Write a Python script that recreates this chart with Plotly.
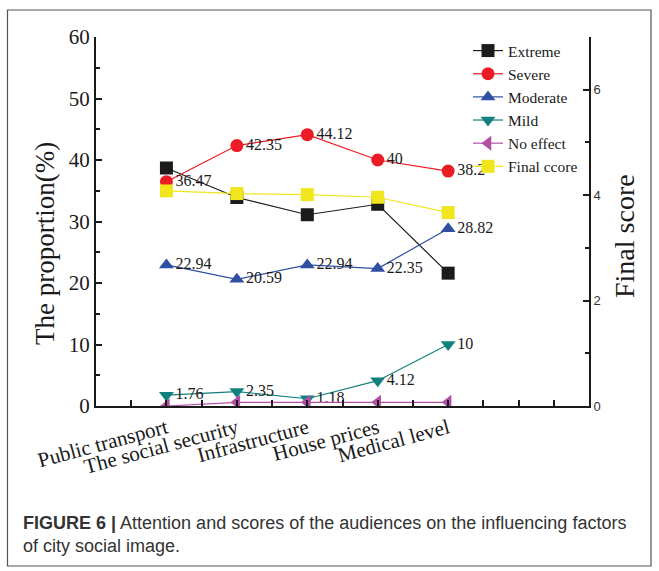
import plotly.graph_objects as go

# Influencing factors of the city's social image
categories = ["Public transport", "The social security", "Infrastructure",
              "House prices", "Medical level"]

# Share of respondents per attention level (%)
extreme = [38.7, 33.9, 31.1, 32.8, 21.6]
severe = [36.47, 42.35, 44.12, 40, 38.2]
moderate = [22.94, 20.59, 22.94, 22.35, 28.82]
mild = [1.76, 2.35, 1.18, 4.12, 10]
no_effect = [0, 0.59, 0.59, 0.59, 0.59]

# Final score per factor (right axis)
final_score = [4.08, 4.03, 4.01, 3.96, 3.67]

severe_labels = ["36.47", "42.35", "44.12", "40", "38.2"]
moderate_labels = ["22.94", "20.59", "22.94", "22.35", "28.82"]
mild_labels = ["1.76", "2.35", "1.18", "4.12", "10"]

W, H = 659, 571
L, R, T, B = 96, 589, 37, 406  # plot-area edges in pixels
PW, PH = R - L, B - T


def px_x(p):
    return (p - L) / PW


def px_y(p):
    return (B - p) / PH


SERIF = "Liberation Serif"
xs = list(range(len(categories)))

fig = go.Figure()


def add_series(name, ys, color, symbol, size, labels=None, yaxis="y"):
    fig.add_trace(go.Scatter(
        x=xs, y=ys, name=name, yaxis=yaxis,
        mode="lines+markers+text" if labels else "lines+markers",
        text=labels, textposition="middle right",
        textfont=dict(family=SERIF, size=16, color="#1a1a1a"),
        line=dict(color=color, width=1.2),
        marker=dict(color=color, symbol=symbol, size=size, line=dict(width=0)),
    ))


add_series("Extreme", extreme, "#1c1a1a", "square", 13)
add_series("Severe", severe, "#ec1c24", "circle", 13, severe_labels)
add_series("Moderate", moderate, "#2f4fa2", "triangle-up", 13, moderate_labels)
add_series("Mild", mild, "#12807e", "triangle-down", 13, mild_labels)
add_series("No effect", no_effect, "#b24fa6", "triangle-left", 13)
add_series("Final ccore", final_score, "#f1e61c", "square", 13, yaxis="y2")

# Bottom axis: ticks every half category, labels only on categories
tick_vals = [v / 2 for v in range(-1, 12)]
tick_text = [categories[int(v)] if v == int(v) and 0 <= v <= 4 else "" for v in tick_vals]

fig.update_layout(
    width=W, height=H,
    margin=dict(l=L, r=W - R, t=T, b=H - B),
    paper_bgcolor="white", plot_bgcolor="white",
    showlegend=True,
    legend=dict(
        x=px_x(468), y=px_y(34), xanchor="left", yanchor="top",
        bgcolor="rgba(0,0,0,0)",
        font=dict(family=SERIF, size=15.5, color="#1a1a1a"),
        tracegroupgap=0, itemwidth=30,
    ),
    xaxis=dict(
        range=[-1, 6], tickmode="array", tickvals=tick_vals, ticktext=tick_text,
        tickangle=-15, ticks="inside", ticklen=6, tickwidth=1.5, tickcolor="#1a1a1a",
        showline=True, linecolor="#1a1a1a", linewidth=2, showgrid=False, zeroline=False,
        tickfont=dict(family=SERIF, size=21, color="#1a1a1a"),
    ),
    xaxis2=dict(
        range=[0, 10], overlaying="x", side="top", dtick=1, ticks="inside",
        ticklen=3, tickwidth=1, tickcolor="#bbbbbb", showticklabels=False,
        showline=True, linecolor="#1a1a1a", linewidth=2, showgrid=False, zeroline=False,
    ),
    yaxis=dict(
        range=[0, 60], dtick=10, ticks="inside", ticklen=6, tickwidth=1.5,
        tickcolor="#1a1a1a",
        minor=dict(dtick=5, ticks="inside", ticklen=4, tickwidth=1.5, tickcolor="#1a1a1a"),
        showline=True, linecolor="#1a1a1a", linewidth=2, showgrid=False, zeroline=False,
        tickfont=dict(family=SERIF, size=21, color="#1a1a1a"),
    ),
    yaxis2=dict(
        range=[0, 7], dtick=2, overlaying="y", side="right", ticks="inside",
        ticklen=6, tickwidth=1.5, tickcolor="#1a1a1a",
        minor=dict(dtick=1, ticks="inside", ticklen=4, tickwidth=1.5, tickcolor="#1a1a1a"),
        showline=True, linecolor="#1a1a1a", linewidth=2, showgrid=False, zeroline=False,
        tickfont=dict(family="Liberation Sans", size=13, color="#333333"),
    ),
)

# Axis titles
fig.add_annotation(
    text="The proportion(%)", xref="paper", yref="paper",
    x=px_x(45), y=px_y(244), xanchor="center", yanchor="middle",
    textangle=-90, showarrow=False,
    font=dict(family=SERIF, size=27, color="#1a1a1a"),
)
fig.add_annotation(
    text="Final score", xref="paper", yref="paper",
    x=px_x(625), y=px_y(236), xanchor="center", yanchor="middle",
    textangle=-90, showarrow=False,
    font=dict(family=SERIF, size=28, color="#1a1a1a"),
)

# Caption
fig.add_annotation(
    text="<b>FIGURE 6 |</b> Attention and scores of the audiences on the influencing factors"
         "<br>of city social image.",
    xref="paper", yref="paper", x=px_x(21), y=px_y(511),
    xanchor="left", yanchor="top", align="left", showarrow=False,
    font=dict(family="Liberation Sans", size=18, color="#333333"),
)

# Outer figure frame
fig.add_shape(
    type="rect", xref="paper", yref="paper",
    x0=px_x(7.5), x1=px_x(651), y0=px_y(566), y1=px_y(10),
    line=dict(color="#555555", width=1.2), fillcolor="rgba(0,0,0,0)", layer="below",
)

fig.write_html("out.html")
